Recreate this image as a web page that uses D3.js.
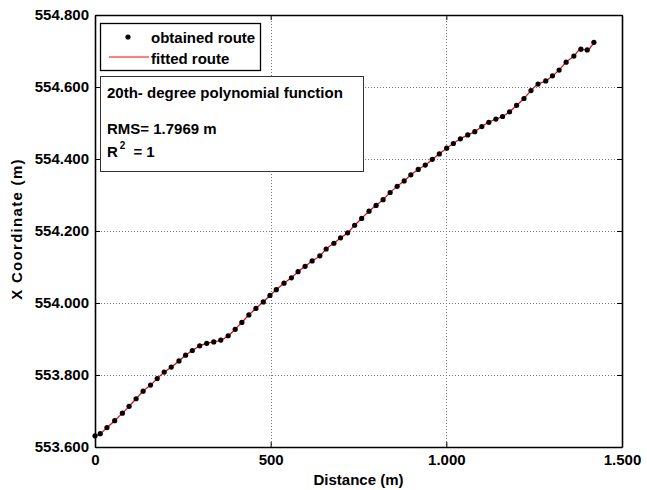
<meta charset="utf-8">
<script src="https://d3js.org/d3.v7.min.js"></script>
<style>
body { margin: 0; background: #fff; }
text { font-family: "Liberation Sans", Arial, sans-serif; font-weight: bold; }
.grid line { stroke: #777; stroke-dasharray: 1,2; shape-rendering: crispEdges; }
</style>
<div id="chart"></div>
<script>
// distance along route (m)
var distance = [0, 15, 34, 56, 78, 97, 117, 137, 158, 177, 197, 217, 239, 258, 277, 298, 318, 338, 358, 379,
  399, 418, 438, 458, 479, 498, 516, 538, 559, 578, 598, 618, 640, 658, 680, 699, 719, 739, 759, 780,
  800, 820, 840, 860, 880, 899, 920, 940, 960, 980, 1001, 1020, 1040, 1061, 1081, 1101, 1121, 1141, 1160, 1180,
  1200, 1221, 1241, 1261, 1283, 1302, 1321, 1341, 1363, 1383, 1401, 1420];
// obtained X coordinate (as labelled on the axis)
var obtained = [553.631, 553.637, 553.654, 553.673, 553.694, 553.713, 553.734, 553.755, 553.772, 553.790,
  553.808, 553.822, 553.839, 553.855, 553.868, 553.881, 553.888, 553.892, 553.897, 553.909,
  553.927, 553.946, 553.967, 553.985, 554.003, 554.021, 554.037, 554.055, 554.070, 554.087,
  554.102, 554.117, 554.131, 554.150, 554.166, 554.181, 554.195, 554.216, 554.235, 554.255,
  554.271, 554.287, 554.307, 554.324, 554.339, 554.356, 554.371, 554.383, 554.399, 554.414,
  554.430, 554.443, 554.456, 554.467, 554.476, 554.490, 554.502, 554.511, 554.518, 554.531,
  554.549, 554.568, 554.590, 554.608, 554.617, 554.631, 554.647, 554.669, 554.686, 554.705,
  554.703, 554.724];
// fitted route follows the same points (R^2 = 1)
var fitted = obtained.slice();

var xTicks = [0, 500, 1000, 1500];
var xTickLabels = ["0", "500", "1.000", "1.500"];
var yTicks = [553.6, 553.8, 554.0, 554.2, 554.4, 554.6, 554.8];
var yTickLabels = ["553.600", "553.800", "554.000", "554.200", "554.400", "554.600", "554.800"];
var legendLabels = ["obtained route", "fitted route"];

var W = 647, H = 490;
var margin = {top: 15, right: 25, bottom: 43, left: 95};
var width = W - margin.left - margin.right;
var height = H - margin.top - margin.bottom;

var svg = d3.select("#chart").append("svg")
    .attr("width", W)
    .attr("height", H);
var g = svg.append("g")
    .attr("transform", "translate(" + margin.left + "," + margin.top + ")");

var x = d3.scaleLinear().domain([0, 1500]).range([0, width]);
var y = d3.scaleLinear().domain([553.6, 554.8]).range([height, 0]);

// grid lines
g.append("g").attr("class", "grid")
  .selectAll("line").data(xTicks.slice(1, -1)).enter().append("line")
  .attr("x1", function(d) { return Math.round(x(d)) + 0.5; })
  .attr("x2", function(d) { return Math.round(x(d)) + 0.5; })
  .attr("y1", 0).attr("y2", height);
g.append("g").attr("class", "grid")
  .selectAll("line").data(yTicks.slice(1, -1)).enter().append("line")
  .attr("y1", function(d) { return Math.round(y(d)) + 0.5; })
  .attr("y2", function(d) { return Math.round(y(d)) + 0.5; })
  .attr("x1", 0).attr("x2", width);

// axes with inward ticks
g.append("g")
    .attr("transform", "translate(0," + height + ")")
    .call(d3.axisBottom(x).tickValues(xTicks).tickSizeInner(-5).tickSizeOuter(0).tickPadding(7)
      .tickFormat(function(d, i) { return xTickLabels[i]; }));
g.append("g")
    .call(d3.axisLeft(y).tickValues(yTicks).tickSizeInner(-5).tickSizeOuter(0).tickPadding(6)
      .tickFormat(function(d, i) { return yTickLabels[i]; }));
g.append("g")
    .call(d3.axisTop(x).tickValues(xTicks).tickSizeInner(-5).tickSizeOuter(0).tickFormat(""));
g.append("g")
    .attr("transform", "translate(" + width + ",0)")
    .call(d3.axisRight(y).tickValues(yTicks).tickSizeInner(-5).tickSizeOuter(0).tickFormat(""));
g.selectAll(".domain").attr("stroke", "#000").attr("stroke-width", 1.6);
g.selectAll(".tick line").attr("stroke", "#000");
g.selectAll(".tick text").attr("font-size", "15px").attr("fill", "#000")
  .style("font-family", "Liberation Sans, Arial, sans-serif").style("font-weight", "bold");

// fitted line
var line = d3.line()
    .x(function(d, i) { return x(distance[i]); })
    .y(function(d) { return y(d); })
    .curve(d3.curveMonotoneX);
g.append("path")
  .datum(fitted)
  .attr("d", line)
  .attr("fill", "none")
  .attr("stroke", "#ff0000")
  .attr("stroke-width", 1.2);

// obtained points
g.selectAll(".dot")
  .data(obtained)
  .enter().append("circle")
  .attr("class", "dot")
  .attr("cx", function(d, i) { return x(distance[i]); })
  .attr("cy", function(d) { return y(d); })
  .attr("r", 2.6)
  .attr("fill", "#000");

// legend
var lg = svg.append("g");
lg.append("rect")
  .attr("x", 100.5).attr("y", 23.5).attr("width", 160).attr("height", 47)
  .attr("fill", "#fff").attr("stroke", "#000").attr("stroke-width", 1.3);
lg.append("circle").attr("cx", 128).attr("cy", 37).attr("r", 2.6).attr("fill", "#000");
lg.append("line").attr("x1", 109).attr("x2", 149).attr("y1", 57).attr("y2", 57)
  .attr("stroke", "#ff0000").attr("stroke-width", 1);
lg.selectAll(".lt").data(legendLabels).enter().append("text")
  .attr("x", 151)
  .attr("y", function(d, i) { return 43 + i * 21; })
  .attr("font-size", "15px")
  .text(function(d) { return d; });

// annotation box
var ab = svg.append("g");
ab.append("rect")
  .attr("x", 100.5).attr("y", 76.5).attr("width", 263).attr("height", 95)
  .attr("fill", "#fff").attr("stroke", "#333").attr("stroke-width", 1);
ab.append("text").attr("x", 107).attr("y", 98).attr("font-size", "15px")
  .text("20th- degree polynomial function");
ab.append("text").attr("x", 107).attr("y", 134).attr("font-size", "15px")
  .text("RMS= 1.7969 m");
var r2 = ab.append("text").attr("x", 107).attr("y", 157).attr("font-size", "15px");
r2.append("tspan").text("R");
r2.append("tspan").attr("dy", -8).attr("dx", 2).attr("font-size", "10px").text("2");
r2.append("tspan").attr("dy", 8).attr("dx", 8).text("= 1");

// axis titles
svg.append("text")
  .attr("x", margin.left + width / 2)
  .attr("y", 485)
  .attr("text-anchor", "middle")
  .attr("font-size", "15px")
  .text("Distance (m)");
svg.append("text")
  .attr("transform", "translate(22,229) rotate(-90)")
  .attr("text-anchor", "middle")
  .attr("font-size", "15px")
  .attr("letter-spacing", "1.3px")
  .text("X Coordinate (m)");
</script>
